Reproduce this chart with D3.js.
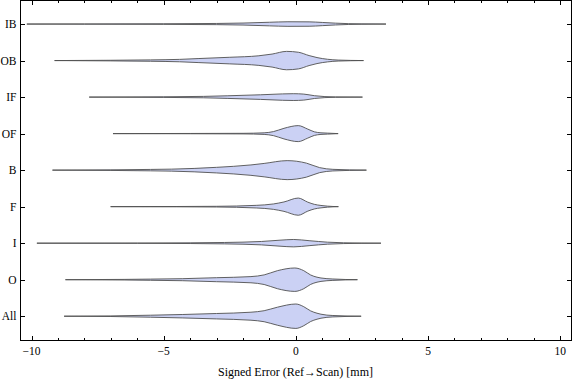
<!DOCTYPE html>
<html>
<head>
<meta charset="utf-8">
<script src="https://cdn.jsdelivr.net/npm/d3@7"></script>
<style>
  html, body { margin: 0; padding: 0; background: #fff; }
  svg { display: block; }
  text { font-family: "Liberation Serif", "DejaVu Serif", serif; fill: #000; }
</style>
</head>
<body>
<svg id="chart" width="576" height="381"></svg>
<script>
// ---- data ----
const categories = ["IB", "OB", "IF", "OF", "B", "F", "I", "O", "All"];

// estimated density profiles: signed error value (mm) and relative density
const errIB  = [-10.18, -8, -5, -3, -2, -1, -0.3, 0.5, 1, 1.5, 2, 2.5, 3.41];
const denIB  = [0, 0.01, 0.03, 0.06, 0.10, 0.18, 0.23, 0.22, 0.16, 0.09, 0.04, 0.02, 0];

const errOB  = [-9.13, -7, -5.5, -4.4, -3.7, -2.5, -1.4, -0.9, -0.35, 0.1, 0.5, 0.8, 1.2, 1.6, 2.56];
const denOB  = [0, 0.03, 0.07, 0.12, 0.20, 0.33, 0.48, 0.65, 0.92, 0.83, 0.50, 0.30, 0.13, 0.05, 0];

const errIF  = [-7.82, -5, -3.5, -2.6, -1.34, -0.5, -0.1, 0.3, 0.7, 1.1, 1.5, 2.52];
const denIF  = [0, 0.03, 0.07, 0.13, 0.23, 0.32, 0.34, 0.30, 0.14, 0.05, 0.02, 0];

const errOF  = [-6.92, -4, -2, -1.2, -0.85, -0.45, 0.09, 0.45, 0.7, 0.95, 1.2, 1.6];
const denOF  = [0, 0.015, 0.03, 0.08, 0.20, 0.53, 0.80, 0.45, 0.18, 0.08, 0.05, 0];

const errB   = [-9.21, -7, -5.5, -4.7, -3, -1.7, -1.2, -0.33, 0.4, 0.9, 1.4, 2.67];
const denB   = [0, 0.03, 0.07, 0.10, 0.28, 0.52, 0.67, 0.95, 0.70, 0.25, 0.08, 0];

const errF   = [-7.01, -4.5, -3, -1.5, -0.85, -0.45, 0.09, 0.45, 0.7, 0.95, 1.2, 1.61];
const denF   = [0, 0.015, 0.035, 0.13, 0.27, 0.47, 0.86, 0.45, 0.23, 0.12, 0.05, 0];

const errI   = [-9.8, -6, -4, -2.7, -1.3, -0.6, -0.08, 0.5, 1.2, 1.8, 2.5, 3.22];
const denI   = [0, 0.015, 0.035, 0.07, 0.17, 0.30, 0.37, 0.25, 0.10, 0.04, 0.015, 0];

const errO   = [-8.72, -6.5, -5.5, -4.3, -3, -1.7, -1.2, -0.7, -0.04, 0.3, 0.56, 0.8, 0.95, 1.4, 2.33];
const denO   = [0, 0.03, 0.06, 0.10, 0.20, 0.31, 0.48, 0.90, 1.17, 0.90, 0.47, 0.25, 0.17, 0.07, 0];

const errAll = [-8.77, -7, -5.5, -4.3, -3, -1.7, -1.2, -0.7, 0, 0.3, 0.56, 0.8, 0.95, 1.4, 2.47];
const denAll = [0, 0.03, 0.10, 0.17, 0.27, 0.40, 0.55, 0.90, 1.22, 0.95, 0.53, 0.30, 0.20, 0.07, 0];

const xMajorTicks = [-10, -5, 0, 5, 10];
const xMinorTicks = [-9, -8, -7, -6, -4, -3, -2, -1, 1, 2, 3, 4, 6, 7, 8, 9];
const xTitle = "Signed Error (Ref\u2192Scan) [mm]";

const violins = [
  [errIB, denIB], [errOB, denOB], [errIF, denIF], [errOF, denOF], [errB, denB],
  [errF, denF], [errI, denI], [errO, denO], [errAll, denAll]
];

// ---- layout ----
const svg = d3.select("#chart");
const pLeft = 20.5, pRight = 571.5, pTop = 0.5, pBottom = 340.5;

const x = d3.scaleLinear().domain([-10.42, 10.43]).range([pLeft, pRight]);
const y = d3.scaleLinear().domain([-0.645, 8.665]).range([pTop, pBottom]);
const w = d3.scaleLinear().domain([0, 1]).range([0, 10]);

// violins
const area = d3.area()
  .x(d => x(d.v))
  .y0(d => d.c - w(d.d))
  .y1(d => d.c + w(d.d))
  .curve(d3.curveMonotoneX);

violins.forEach(([errs, dens], i) => {
  const c = y(i);
  const pts = errs.map((v, k) => ({ v, d: dens[k], c }));
  svg.append("path")
    .attr("d", area(pts))
    .attr("fill", "#cbd1f4")
    .attr("stroke", "#505050")
    .attr("stroke-width", 0.9)
    .attr("stroke-linejoin", "round");
});

// frame
svg.append("rect")
  .attr("x", pLeft).attr("y", pTop)
  .attr("width", pRight - pLeft).attr("height", pBottom - pTop)
  .attr("fill", "none").attr("stroke", "#000").attr("stroke-width", 1);

// x ticks (bottom and top, inward)
const tickG = svg.append("g").attr("stroke", "#000").attr("stroke-width", 1);
xMajorTicks.forEach(t => {
  const px = Math.round(x(t)) + 0.5;
  tickG.append("line").attr("x1", px).attr("x2", px).attr("y1", pBottom).attr("y2", pBottom - 4.5);
  tickG.append("line").attr("x1", px).attr("x2", px).attr("y1", pTop).attr("y2", pTop + 4.5);
});
xMinorTicks.forEach(t => {
  const px = Math.round(x(t)) + 0.5;
  tickG.append("line").attr("x1", px).attr("x2", px).attr("y1", pBottom).attr("y2", pBottom - 2.5);
  tickG.append("line").attr("x1", px).attr("x2", px).attr("y1", pTop).attr("y2", pTop + 2.5);
});

// y ticks (left and right, inward)
categories.forEach((cat, i) => {
  const py = Math.round(y(i)) + 0.5;
  tickG.append("line").attr("x1", pLeft).attr("x2", pLeft + 4.5).attr("y1", py).attr("y2", py);
  tickG.append("line").attr("x1", pRight).attr("x2", pRight - 4.5).attr("y1", py).attr("y2", py);
});

// x tick labels
xMajorTicks.forEach(t => {
  svg.append("text")
    .attr("x", x(t)).attr("y", 355)
    .attr("text-anchor", "middle")
    .attr("font-size", 11.5)
    .text(t < 0 ? "\u2212" + Math.abs(t) : String(t));
});

// y labels
categories.forEach((cat, i) => {
  svg.append("text")
    .attr("x", 16.5).attr("y", y(i) + 4)
    .attr("text-anchor", "end")
    .attr("font-size", 11.5)
    .text(cat);
});

// x title
svg.append("text")
  .attr("x", 295.5).attr("y", 376)
  .attr("text-anchor", "middle")
  .attr("font-size", 12)
  .text(xTitle);
</script>
</body>
</html>
